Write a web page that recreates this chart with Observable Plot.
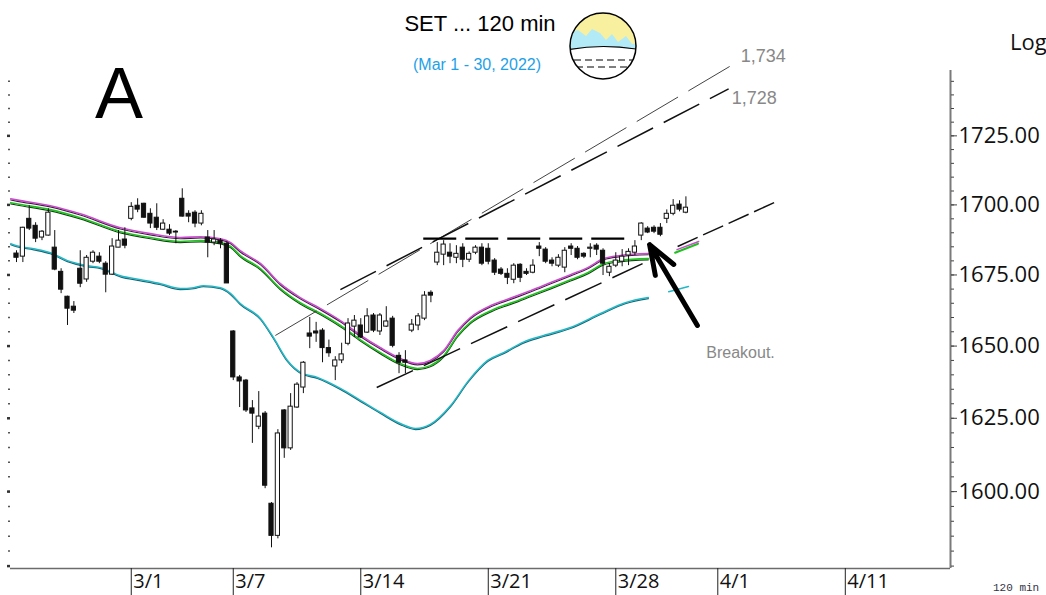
<!DOCTYPE html>
<html><head><meta charset="utf-8">
<script src="https://cdn.jsdelivr.net/npm/d3@7"></script>
<script src="https://cdn.jsdelivr.net/npm/@observablehq/plot@0.6"></script>
<style>
body{margin:0;background:#fff;}
#wrap{position:relative;width:1046px;height:595px;overflow:hidden;background:#fff;}
#chart{position:absolute;left:0;top:0;}
#over{position:absolute;left:0;top:0;pointer-events:none;}
</style></head><body>
<div id="wrap"><div id="chart"></div>
<svg id="over" width="1046" height="595" font-family="'Liberation Sans', Arial, sans-serif">
  <text x="95" y="118" font-size="72" fill="#000">A</text>
  <text x="480" y="31" font-size="22" text-anchor="middle" fill="#000">SET ... 120 min</text>
  <text x="477" y="70" font-size="16" text-anchor="middle" fill="#1ea1e8">(Mar 1 - 30, 2022)</text>
  <text x="1010" y="50" font-size="22" font-family="'Open Sans', sans-serif" fill="#111">Log</text>
  <text x="993" y="591" font-size="11" font-family="'Liberation Mono', monospace" fill="#334">120 min</text>
  <defs><clipPath id="gc"><circle cx="603" cy="46" r="33"/></clipPath></defs>
  <circle cx="603" cy="46" r="33" fill="#f8f09e"/>
  <g clip-path="url(#gc)">
    <path d="M566 34 L578 30 L586 36 L592 29 L600 33 L606 40 L612 34 L618 42 L626 36 L632 44 L642 42 L642 52 L566 54 Z" fill="#b2ebf7"/>
    <path d="M566 50 Q603 43 642 50 L642 84 L566 84 Z" fill="#fff" stroke="#000" stroke-width="1.2"/>
    <path d="M574 60 L632 60 M576 67 L630 67" stroke="#000" stroke-width="1.2" stroke-dasharray="7,4" fill="none"/>
  </g>
  <circle cx="603" cy="46" r="33" fill="none" stroke="#000" stroke-width="1.5"/>
</svg>
</div>
<script>
// ---- candle data (120-min bars, index 0..105) ----
const open  = [1682.6,1681.5,1695.0,1692.5,1688.3,1689.0,1684.7,1676.1,1667.3,1663.8,1677.2,1673.4,1679.7,1681.5,1679.0,1675.1,1684.7,1687.6,1695.0,1699.7,1700.4,1696.8,1695.4,1691.1,1691.1,1690.4,1702.2,1696.8,1697.2,1693.3,1688.3,1686.5,1687.2,1686.1,1655.1,1639.1,1638.0,1628.4,1622.1,1626.6,1595.9,1585.1,1627.7,1614.7,1628.7,1635.6,1654.4,1655.1,1655.4,1649.3,1642.9,1645.0,1650.8,1656.8,1657.2,1654.7,1660.7,1655.1,1656.8,1659.6,1646.6,1645.0,1655.4,1657.2,1659.6,1668.7,1679.4,1682.2,1682.9,1681.1,1684.7,1680.4,1682.9,1684.7,1684.3,1680.1,1676.9,1675.4,1673.3,1678.6,1676.1,1675.8,1685.1,1684.0,1680.1,1678.3,1677.6,1685.1,1684.3,1682.5,1684.3,1685.4,1683.6,1675.8,1678.3,1679.7,1681.9,1682.9,1689.0,1691.5,1691.8,1691.8,1695.0,1696.8,1700.1,1697.2];
const high  = [1683.6,1692.0,1699.7,1693.6,1690.8,1698.6,1690.8,1677.2,1667.5,1665.6,1683.6,1681.9,1683.6,1682.9,1679.7,1687.9,1690.8,1691.8,1700.8,1702.2,1700.6,1698.6,1700.4,1694.7,1692.9,1690.8,1705.8,1697.9,1697.9,1697.9,1690.8,1690.8,1687.9,1686.9,1655.4,1639.8,1638.4,1631.1,1634.2,1627.3,1596.3,1621.1,1628.0,1633.5,1637.3,1644.6,1660.0,1658.3,1656.1,1652.1,1646.3,1651.0,1659.6,1660.7,1659.6,1663.1,1661.4,1661.4,1663.8,1660.4,1647.7,1648.4,1659.3,1661.4,1669.1,1669.4,1686.5,1687.2,1686.1,1685.4,1686.1,1683.2,1685.4,1686.1,1686.1,1680.8,1677.6,1677.2,1679.0,1679.0,1677.2,1680.4,1686.5,1684.7,1681.1,1682.2,1684.7,1686.1,1685.1,1682.9,1686.1,1686.1,1684.3,1679.0,1682.9,1684.0,1684.3,1687.2,1693.6,1692.2,1692.5,1693.3,1698.2,1701.9,1701.5,1702.9];
const low   = [1679.4,1679.4,1690.8,1686.5,1687.2,1688.8,1676.5,1668.4,1657.2,1661.4,1670.5,1672.4,1679.0,1679.0,1668.7,1674.8,1684.7,1684.3,1694.3,1697.2,1695.2,1691.5,1690.8,1690.8,1689.0,1686.1,1695.6,1693.6,1691.8,1692.5,1681.1,1685.4,1684.3,1672.0,1638.0,1628.7,1627.0,1616.4,1621.1,1601.0,1581.1,1584.1,1611.3,1614.0,1628.4,1633.5,1649.1,1651.3,1644.2,1646.1,1638.0,1643.9,1650.1,1653.0,1652.6,1654.4,1654.7,1653.7,1656.5,1649.4,1640.4,1640.4,1654.7,1655.4,1658.9,1665.2,1678.3,1678.3,1679.0,1679.0,1677.6,1679.4,1682.2,1678.3,1678.6,1674.8,1674.8,1671.6,1671.9,1672.3,1674.8,1675.4,1681.5,1679.0,1677.9,1677.6,1675.8,1681.9,1680.4,1680.8,1681.1,1681.9,1674.8,1674.4,1677.6,1677.9,1678.3,1681.9,1687.2,1689.7,1689.7,1688.6,1693.3,1696.1,1697.5,1696.8];
const close = [1681.1,1691.8,1691.5,1687.9,1690.4,1697.2,1676.9,1669.8,1663.1,1662.4,1671.9,1681.1,1682.9,1679.7,1675.1,1685.1,1687.2,1685.4,1699.3,1698.3,1695.4,1693.3,1691.8,1693.3,1689.7,1690.1,1695.8,1695.8,1693.3,1696.8,1686.5,1687.6,1686.1,1672.0,1639.1,1637.7,1627.7,1626.6,1625.6,1602.0,1585.1,1619.8,1614.7,1629.0,1636.6,1644.2,1653.3,1654.4,1649.3,1647.5,1645.0,1647.1,1657.9,1658.9,1653.0,1660.4,1655.4,1660.7,1658.6,1650.1,1644.2,1644.2,1657.5,1660.4,1667.7,1667.7,1682.9,1685.8,1681.5,1682.5,1680.4,1682.5,1684.7,1679.0,1679.7,1675.8,1675.4,1674.0,1678.3,1674.0,1675.4,1678.3,1684.3,1679.7,1679.0,1681.1,1683.6,1684.3,1681.1,1681.5,1684.7,1684.0,1679.0,1677.9,1680.1,1681.5,1683.2,1685.1,1693.3,1690.1,1690.4,1689.3,1696.8,1699.7,1698.3,1699.0];

// ---- moving-average lines (bar position, price) ----
const upperIdx = [-0.9,0,5.3,10.0,16.3,21.0,25.7,28.9,32.0,33.6,35.1,38.3,41.4,44.5,47.7,50.8,54.0,57.1,60.2,62.9,64.9,67.0,69.2,71.2,74.4,76.4,78.6,80.6,83.8,86.9,89.6,92.1,94.7,99.1];
const magentaVals = [1702.2,1701.8,1699.7,1696.8,1691.8,1689.7,1688.3,1688.6,1687.9,1686.5,1683.6,1679.0,1671.9,1667.0,1663.1,1658.9,1653.7,1649.4,1645.7,1643.9,1645.0,1648.4,1655.4,1660.0,1664.2,1665.9,1667.7,1669.4,1672.3,1675.1,1677.6,1680.8,1681.9,1682.6];
const greenVals   = [1700.8,1700.4,1698.3,1695.4,1690.4,1688.3,1686.9,1687.2,1686.5,1685.1,1681.9,1677.2,1670.2,1665.2,1661.4,1657.2,1652.1,1647.7,1643.9,1642.2,1643.2,1646.6,1653.7,1658.3,1662.4,1664.2,1665.9,1667.7,1670.5,1673.3,1675.8,1679.0,1680.1,1680.8];
const tealIdx  = [-0.9,0,2.7,5.3,8.0,11.1,13.2,16.3,19.5,22.6,25.7,27.8,29.3,32.0,33.6,35.1,38.3,40.3,42.5,44.6,47.2,50.8,54.0,57.1,60.2,62.6,64.9,68.1,70.9,73.9,76.4,79.5,82.7,86.9,91.6,95.5,99.1];
const tealVals = [1686.1,1685.4,1684.3,1682.9,1680.1,1678.3,1677.6,1674.7,1673.3,1671.9,1670.2,1670.5,1671.2,1670.5,1668.4,1664.9,1659.6,1653.0,1645.0,1640.8,1639.1,1635.3,1631.1,1627.0,1623.2,1621.5,1622.9,1629.4,1638.0,1645.0,1647.7,1651.4,1653.7,1656.5,1661.4,1665.2,1667.0];
const magentaExtIdx = [103.6,107.0], magentaExtVals = [1684.0,1686.9];
const greenExtIdx   = [103.3,106.9], greenExtVals   = [1682.9,1686.1];
const tealExtIdx    = [102.3,105.4], tealExtVals    = [1669.1,1670.9];

// ---- trend lines / annotations (bar position, price) ----
const line1734 = {i1:40.6, p1:1653.7, i2:112.8, p2:1751.8};
const line1728 = {i1:50.8, p1:1669.8, i2:111.7, p2:1742.2};
const resistance = {i1:63.8, p1:1687.9, i2:96.6, p2:1687.9};
const channelLow = {i1:56.5, p1:1635.6, i2:98.2, p2:1679.0};
const channelHigh = {i1:103.7, p1:1685.1, i2:119.1, p2:1701.1};
const arrowPts = {i1:106.8, p1:1657.2, i2:99.3, p2:1685.8};
const labels = [{i:113.6, p:1754.4, t:"1,734", s:18}, {i:112.2, p:1738.9, t:"1,728", s:18}, {i:108.2, p:1647.7, t:"Breakout.", s:16}];

// ---- axes ----
const xTickIdx = [18,34,54,74,94,110,130];
const xTickLabels = ["3/1","3/7","3/14","3/21","3/28","4/1","4/11"];
const yTicks = [1600,1625,1650,1675,1700,1725];
const yMinor = d3.range(1575, 1750, 5);
const xDomain = [-0.94, 146.5];
const yDomain = [1574.2, 1749];

const bars = open.map((o, i) => ({i, o, h: high[i], l: low[i], c: close[i]}));
const pts = (xs, vs) => xs.map((x, k) => ({x, v: vs[k]}));

const chart = Plot.plot({
  width: 1046, height: 595,
  marginLeft: 10, marginRight: 96, marginTop: 70, marginBottom: 27,
  x: {domain: xDomain},
  y: {type: "log", domain: yDomain},
  style: {fontFamily: "'Open Sans', sans-serif", background: "transparent", overflow: "visible", color: "#111"},
  marks: [
    Plot.ruleY([yDomain[0]], {stroke: "#6b6b6b", strokeWidth: 1.5}),
    Plot.ruleX([xDomain[1]], {stroke: "#7a7a7a", strokeWidth: 2}),
    Plot.axisY(yMinor, {anchor: "right", tickSize: 3, fill: "none", label: null, stroke: "#444"}),
    Plot.axisY(yTicks, {anchor: "right", tickSize: 6, tickPadding: 2, fontSize: 22, label: null, tickFormat: d => d.toFixed(2), stroke: "#444", fill: "#111"}),
    Plot.axisY(yMinor, {anchor: "left", tickSize: 2, fill: "none", label: null, stroke: "#555", strokeWidth: 1.5}),
    Plot.axisY(yMinor.filter(v => v % 25 === 0), {anchor: "left", tickSize: 3, fill: "none", label: null, stroke: "#333", strokeWidth: 2.5}),
    Plot.axisX(xTickIdx, {anchor: "bottom", tickSize: 28, fill: "none", label: null, stroke: "#222"}),
    Plot.axisX(xTickIdx, {anchor: "bottom", tickSize: 0, tickPadding: 5, textAnchor: "start", dx: 2, fontSize: 20, label: null,
      tickFormat: d => xTickLabels[xTickIdx.indexOf(d)], fill: "#111"}),
    // moving averages
    Plot.line(pts(tealIdx, tealVals), {x: "x", y: "v", stroke: "#1d5f70", strokeWidth: 1.3, dy: 1, curve: "monotone-x"}),
    Plot.line(pts(tealIdx, tealVals), {x: "x", y: "v", stroke: "#22b8c6", strokeWidth: 1.5, curve: "monotone-x"}),
    Plot.line(pts(upperIdx, greenVals), {x: "x", y: "v", stroke: "#1a3a1a", strokeWidth: 1.2, dy: 1.2, curve: "monotone-x"}),
    Plot.line(pts(upperIdx, greenVals), {x: "x", y: "v", stroke: "#1ec41e", strokeWidth: 1.6, curve: "monotone-x"}),
    Plot.line(pts(upperIdx, magentaVals), {x: "x", y: "v", stroke: "#3a1a3a", strokeWidth: 1.2, dy: 1.2, curve: "monotone-x"}),
    Plot.line(pts(upperIdx, magentaVals), {x: "x", y: "v", stroke: "#c84ccc", strokeWidth: 1.6, curve: "monotone-x"}),
    Plot.line(pts(tealExtIdx, tealExtVals), {x: "x", y: "v", stroke: "#22b8c6", strokeWidth: 1.5}),
    Plot.line(pts(greenExtIdx, greenExtVals), {x: "x", y: "v", stroke: "#1ec41e", strokeWidth: 2}),
    Plot.line(pts(magentaExtIdx, magentaExtVals), {x: "x", y: "v", stroke: "#c84ccc", strokeWidth: 1.5}),
    // trend lines
    Plot.link([line1734], {x1: "i1", y1: "p1", x2: "i2", y2: "p2", stroke: "#444", strokeWidth: 1, strokeDasharray: "48,12"}),
    Plot.link([line1728], {x1: "i1", y1: "p1", x2: "i2", y2: "p2", stroke: "#111", strokeWidth: 1.5, strokeDasharray: "40,12"}),
    Plot.link([resistance], {x1: "i1", y1: "p1", x2: "i2", y2: "p2", stroke: "#000", strokeWidth: 2.2, strokeDasharray: "33,9"}),
    Plot.link([channelLow], {x1: "i1", y1: "p1", x2: "i2", y2: "p2", stroke: "#111", strokeWidth: 1.5, strokeDasharray: "40,12"}),
    Plot.link([channelHigh], {x1: "i1", y1: "p1", x2: "i2", y2: "p2", stroke: "#111", strokeWidth: 1.5, strokeDasharray: "22,6"}),
    // candles
    Plot.ruleX(bars, {x: "i", y1: "l", y2: "h", stroke: "#111", strokeWidth: 1}),
    Plot.rect(bars, {x1: d => d.i - 0.33, x2: d => d.i + 0.33, y1: "o", y2: "c",
      fill: d => d.c >= d.o ? "#fff" : "#111", stroke: "#111", strokeWidth: 1}),
    // arrow and labels
    Plot.arrow([arrowPts], {x1: "i1", y1: "p1", x2: "i2", y2: "p2", stroke: "#000", strokeWidth: 5, headLength: 12, headAngle: 40}),
    Plot.text(labels, {x: "i", y: "p", text: "t", fontSize: d => d.s, textAnchor: "start", fill: "#888",
      fontFamily: "'Liberation Sans', Arial, sans-serif"})
  ]
});
document.getElementById("chart").appendChild(chart);
</script>
</body></html>
